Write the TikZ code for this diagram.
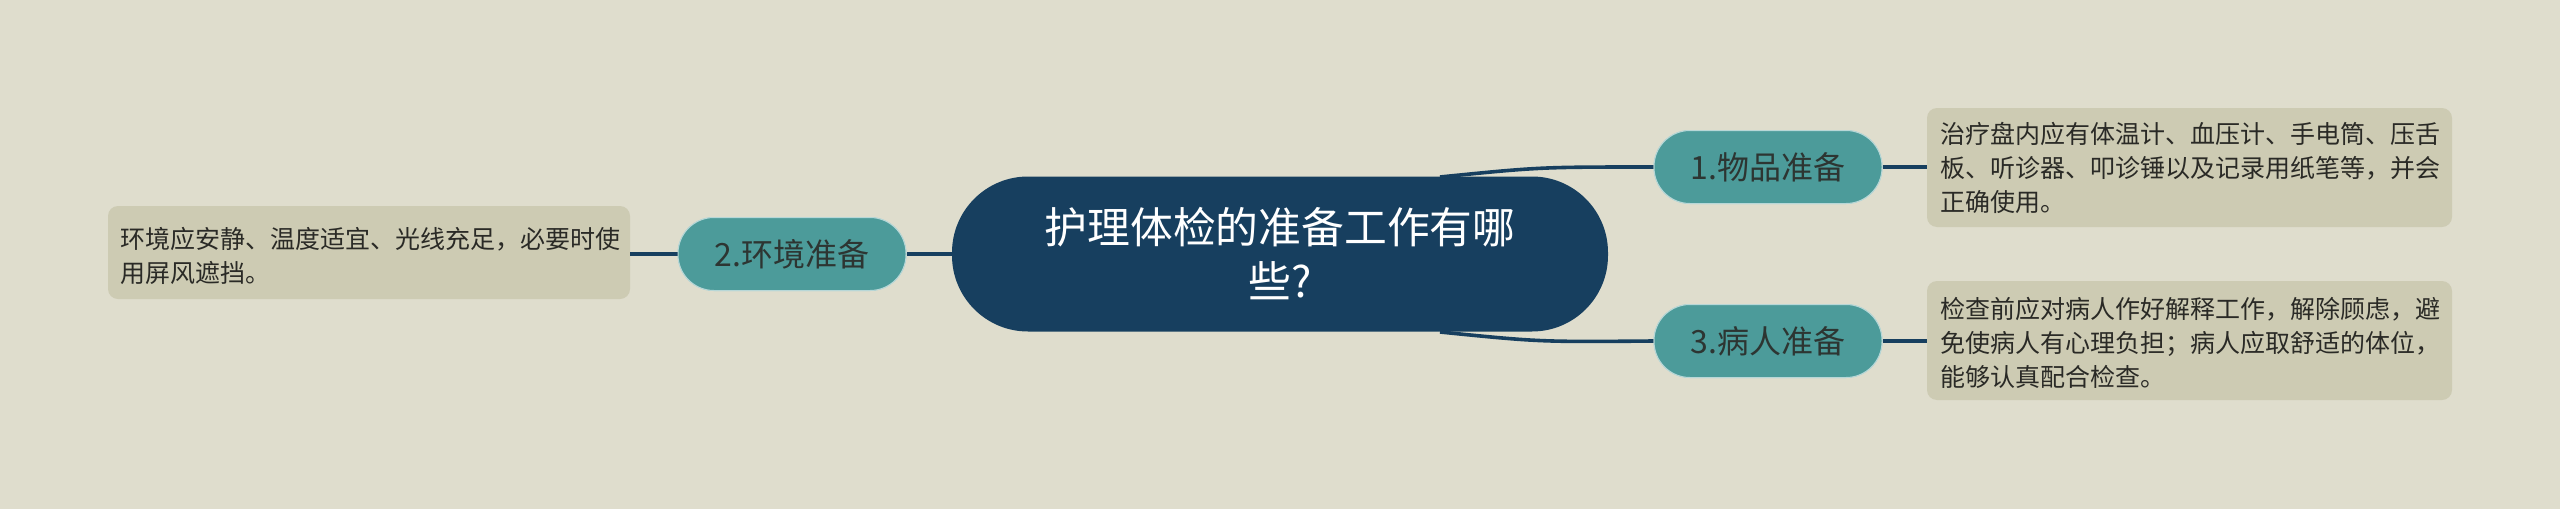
\documentclass[tikz,border=0pt]{standalone}
\usepackage{fontspec}
\setmainfont{Noto Sans CJK SC}
\definecolor{bgcol}{HTML}{DFDDCD}
\definecolor{navy}{HTML}{173F5F}
\definecolor{teal2}{HTML}{4C9B9A}
\definecolor{boxcol}{HTML}{CDCBB3}
\definecolor{txtcol}{HTML}{2A2A26}
\tikzset{
  topic/.style={fill=navy, text=white, minimum width=328pt, minimum height=77.5pt,
    rounded corners=38pt, align=center, font=\fontsize{21.4pt}{27pt}\selectfont, inner sep=0pt},
  branch/.style={fill=teal2, draw=white!60!teal2, line width=0.5pt, text=txtcol!90!teal2,
    minimum width=114pt, minimum height=36.5pt, rounded corners=18pt,
    font=\fontsize{16pt}{19pt}\selectfont, inner sep=0pt},
  leaf/.style={fill=boxcol, text=txtcol, rounded corners=5pt, align=left, anchor=north west,
    font=\fontsize{12.5pt}{17pt}\selectfont, inner sep=0pt, text depth=0pt},
  link/.style={draw=navy, line width=1.8pt}
}
\begin{document}
\begin{tikzpicture}[x=0.5pt,y=-0.5pt]
	\fill[bgcol] (0,0) rectangle (2560,509);
	\useasboundingbox (0,0) rectangle (2560,509);

	% leaf boxes
	\fill[boxcol, rounded corners=5pt] (1927,108) rectangle (2452,227);
	\node[leaf] (t1) at (1940,122) {治疗盘内应有体温计、血压计、手电筒、压舌\\板、听诊器、叩诊锤以及记录用纸笔等，并会\\正确使用。};
	\coordinate (b1) at (1927,167);

	\fill[boxcol, rounded corners=5pt] (1927,281) rectangle (2452,400);
	\node[leaf] (t3) at (1940,297) {检查前应对病人作好解释工作，解除顾虑，避\\免使病人有心理负担；病人应取舒适的体位，\\能够认真配合检查。};
	\coordinate (b3) at (1927,341);

	\fill[boxcol, rounded corners=5pt] (108,206) rectangle (630,299);
	\node[leaf] (t2) at (120,227) {环境应安静、温度适宜、光线充足，必要时使\\用屏风遮挡。};
	\coordinate (b2) at (630,254);

	% connectors
	\coordinate (s1) at (1440,177);
	\coordinate (s3) at (1440,332);
	\node[branch] (n1) at (1768,167) {1.物品准备};
	\node[branch] (n3) at (1768,341) {3.病人准备};
	\node[branch] (n2) at (792,254) {2.环境准备};

	\draw[link] (s1) .. controls (1540,167) .. (n1.west);
	\draw[link] (s3) .. controls (1540,342) .. (n3.west);
	\draw[link] (n1.east) -- (b1);
	\draw[link] (n3.east) -- (b3);
	\draw[link] (n2.west) -- (b2);

	\node[topic] (c) at (1280,254) {护理体检的准备工作有哪\\些?};
	\draw[link] (c.west) -- (n2.east);

	% redraw teal nodes above links
	\node[branch] at (n1) {1.物品准备};
	\node[branch] at (n3) {3.病人准备};
	\node[branch] at (n2) {2.环境准备};
\end{tikzpicture}
\end{document}
